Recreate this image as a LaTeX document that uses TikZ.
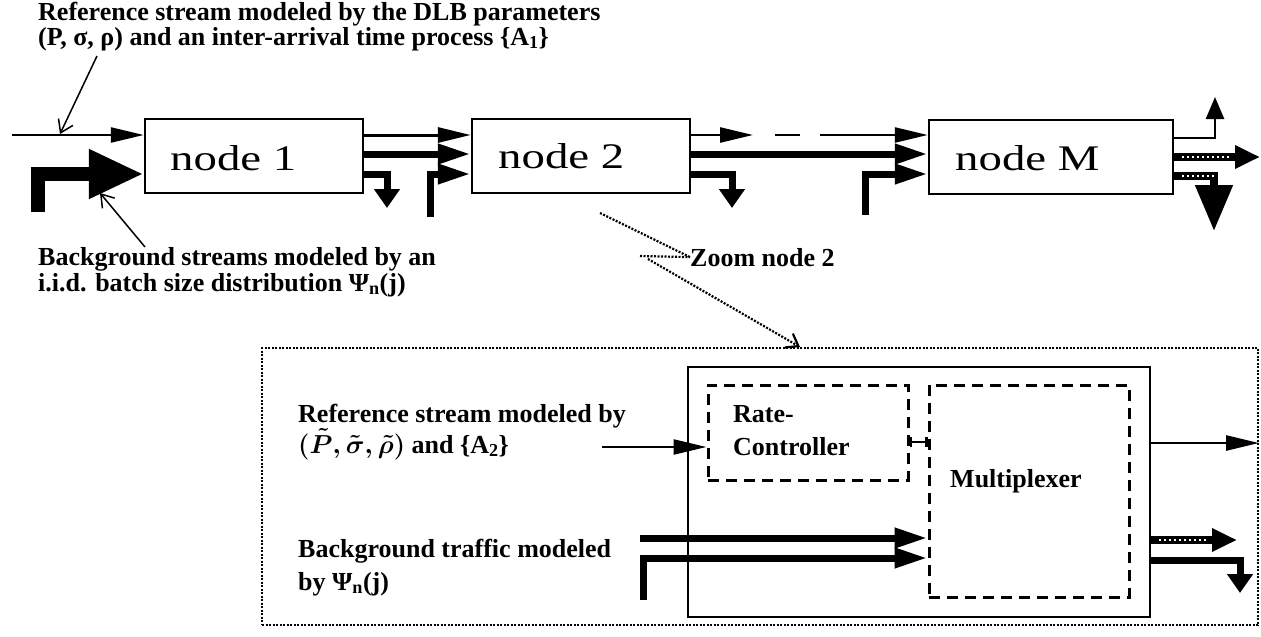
\documentclass[tikz,border=0pt]{standalone}
\usepackage{fix-cm}
\usepackage{amsmath}
\usepackage{fontspec}
\setmainfont{Liberation Serif}
\newfontfamily\widefont[FakeStretch=1.3]{Liberation Serif}
\usetikzlibrary{arrows.meta}
\begin{document}
\begin{tikzpicture}[x=1pt,y=-1pt,
  box/.style={draw, line width=2.5pt, inner sep=0pt},
  lbl/.style={font=\fontsize{26}{30}\selectfont\bfseries, anchor=base west, inner sep=0pt},
  big/.style={font=\widefont\fontsize{36}{40}\selectfont, anchor=base west, inner sep=0pt},
  thinarr/.style={line width=2.5pt, -{Triangle[length=33pt,width=15pt]}},
  thickarr/.style={line width=7pt, -{Triangle[length=33pt,width=19pt]}},
  downarr/.style={line width=7pt, -{Triangle[length=19pt,width=25pt]}},
  ptr/.style={line width=1.5pt, -{Straight Barb[length=12pt,width=16pt]}},
  hatch/.style={line width=8pt, -{Triangle[length=25pt,width=22pt]}},
  speck/.style={white, line width=1.2pt, dash pattern=on 2pt off 3pt},
  zdot/.style={line width=2.2pt, dash pattern=on 2pt off 1.5pt},
  dashbox/.style={draw, line width=3pt, dash pattern=on 11pt off 7pt, inner sep=0pt}
]
\useasboundingbox (0,0) rectangle (1261,637);

% ---- upper chain ----
\node[box, minimum width=218pt, minimum height=74pt] (n1) at (254,156) {};
\node[box, minimum width=218pt, minimum height=74pt] (n2) at (581,156) {};
\node[box, minimum width=244pt, minimum height=74pt] (nM) at (1051,157) {};
\node[big] (t1) at (170,170) {node 1};
\node[big] (t2) at (498,168) {node 2};
\node[big] (tM) at (955,170) {node M};

\node[lbl] (ref1) at (38,20) {Reference stream modeled by the DLB parameters};
\node[lbl] (ref2) at (38,45) {(P, σ, ρ) and an inter-arrival time process \{A\textsubscript{1}\}};
\node[lbl] (bgt1) at (38,265) {Background streams modeled by an};
\node[lbl] (bgt2) at (38,291) {i.i.d. batch size distribution Ψ\textsubscript{n}(j)};
\node[lbl] (zl) at (690,266) {Zoom node 2};

\coordinate (yA) at (0,135);
\coordinate (yB) at (0,154);
\coordinate (yC) at (0,174);

\coordinate (r0) at (12,135);
\draw[thinarr] (r0) -- (n1.west |- yA);
\coordinate (p1s) at (97,56);
\coordinate (p1e) at (60,134);
\draw[ptr] (p1s) -- (p1e);
\coordinate (b0) at (38,212);
\draw[line width=14pt, -{Triangle[length=55pt,width=46pt]}] (b0) |- (n1.west |- yC);
\coordinate (p2s) at (145,247);
\coordinate (p2e) at (100,193);
\draw[ptr] (p2s) -- (p2e);

\draw[thinarr, line width=3pt] (n1.east |- yA) -- (n2.west |- yA);
\draw[thickarr] (n1.east |- yB) -- (n2.west |- yB);
\coordinate (d1) at (387,208);
\draw[downarr] (n1.east |- yC) -| (d1);
\coordinate (L2) at (430,217);
\draw[thickarr] (L2) |- (n2.west |- yC);

\coordinate (a1) at (753,135);
\coordinate (a2) at (775,135);
\coordinate (a3) at (800,135);
\coordinate (a4) at (820,135);
\draw[thinarr] (n2.east |- yA) -- (a1);
\draw[line width=2.5pt] (a2) -- (a3);
\draw[thinarr] (a4) -- (nM.west |- yA);
\draw[thickarr] (n2.east |- yB) -- (nM.west |- yB);
\coordinate (d2) at (732,208);
\draw[downarr] (n2.east |- yC) -| (d2);
\coordinate (LM) at (865,215);
\draw[thickarr] (LM) |- (nM.west |- yC);

\coordinate (yM) at (0,138);
\coordinate (u1) at (1215,97);
\draw[line width=2.5pt, -{Triangle[length=22pt,width=18pt]}] (nM.east |- yM) -| (u1);
\coordinate (h1) at (1260,157);
\draw[hatch] (nM.east |- h1) -- (h1);
\draw[speck] ([xshift=8pt]nM.east |- h1) -- ([xshift=-30pt]h1);
\coordinate (yM3) at (0,176);
\coordinate (h2) at (1214,231);
\draw[line width=8pt, -{Triangle[length=46pt,width=36pt]}] (nM.east |- yM3) -| (h2);
\draw[speck] ([xshift=8pt]nM.east |- yM3) -- (h2 |- yM3);

% ---- zoom pointer ----
\coordinate (z0) at (600,213);
\draw[zdot] (z0) -- (zl.west);
\coordinate (z1) at (640,256);
\draw[zdot] (z1) -- (zl.west);
\coordinate (z2) at (648,259);
\coordinate (z3) at (800,347);
\draw[zdot, -{Straight Barb[length=11pt,width=16pt]}] (z2) -- (z3);

% ---- zoomed node ----
\node[draw, zdot, minimum width=996pt, minimum height=277pt, inner sep=0pt] (zbox) at (760,486.5) {};
\node[box, minimum width=462pt, minimum height=250pt] (outer) at (919,492) {};
\node[dashbox, minimum width=200pt, minimum height=95pt] (rate) at (808,432.5) {};
\node[dashbox, minimum width=200pt, minimum height=212pt] (mux) at (1029,491) {};
\node[lbl] (rc1) at (733,422) {Rate-};
\node[lbl] (rc2) at (733,455) {Controller};
\node[lbl] (mx) at (950,487) {Multiplexer};
\node[lbl] (lr1) at (298,422) {Reference stream modeled by};
\node[lbl] (lr2) at (298,453) {{\boldmath$(\tilde{P},\tilde{\sigma},\tilde{\rho})$} and \{A\textsubscript{2}\}};
\node[lbl] (lb1) at (298,557) {Background traffic modeled};
\node[lbl] (lb2) at (298,590) {by Ψ\textsubscript{n}(j)};

\coordinate (yH) at (0,442);
\draw[line width=2.5pt, {Bar[width=10pt]}-{Bar[width=10pt]}] (rate.east |- yH) -- (mux.west |- yH);
\coordinate (r2) at (602,447);
\draw[thinarr] (r2) -- (rate.west |- r2);
\coordinate (g1) at (640,538);
\draw[thickarr] (g1) -- (mux.west |- g1);
\coordinate (g2) at (643,600);
\coordinate (g2y) at (0,558);
\draw[thickarr] (g2) |- (mux.west |- g2y);
\coordinate (o1) at (1259,443);
\draw[thinarr] (outer.east |- o1) -- (o1);
\coordinate (o2) at (1237,540);
\draw[hatch] (outer.east |- o2) -- (o2);
\draw[speck] ([xshift=8pt]outer.east |- o2) -- ([xshift=-30pt]o2);
\coordinate (o3) at (1240,593);
\coordinate (o3y) at (0,560);
\draw[downarr] (outer.east |- o3y) -| (o3);
\end{tikzpicture}
\end{document}
